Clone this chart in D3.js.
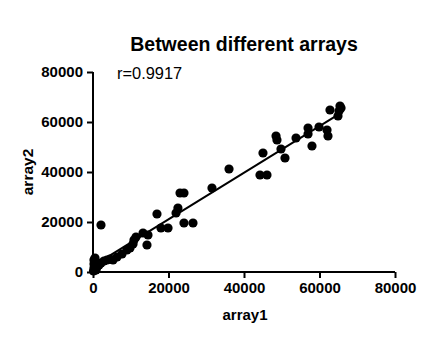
<!DOCTYPE html>
<html>
<head>
<meta charset="utf-8">
<script src="https://cdn.jsdelivr.net/npm/d3@7"></script>
<style>
  body { margin: 0; background: #fff; }
  text { font-family: Arial, "Liberation Sans", sans-serif; fill: #000; }
</style>
</head>
<body>
<div id="chart"></div>
<script>
let width = 448,
  height = 351;

// values
let array1 = [130, 260, 260, 260, 530, 800, 1060, 1590, 2120, 2910, 3710, 4500, 5300,
  6360, 7680, 9000, 9800, 10600, 10860, 11390, 13250, 14570, 14300, 2120,
  16950, 18000, 19870, 22000, 22500, 23050, 24100, 24100, 26490, 31520, 36030,
  44240, 46090, 45030, 48480, 48740, 49800, 50860, 53780, 56960, 56960, 58010,
  59870, 61990, 62250, 62780, 64900, 65170, 65430, 65700];
let array2 = [400, 1600, 3200, 4800, 5600, 800, 2000, 2800, 3600, 4400, 4800, 5200, 4800,
  6000, 7200, 8800, 9600, 11200, 12800, 14000, 15600, 14800, 10800, 18800,
  23200, 17600, 17600, 23600, 25600, 31600, 31600, 19600, 19600, 33600, 41200,
  38800, 38800, 47600, 54400, 52800, 49200, 45600, 53600, 57600, 55200, 50400,
  58000, 56800, 54400, 64800, 62400, 64400, 66400, 65600];
let tickValues = [0, 20000, 40000, 60000, 80000];
let title = "Between different arrays";
let rLabel = "r=0.9917";

let data = array1.map((d, i) => ({x: d, y: array2[i]}));

let svg = d3.select("#chart")
  .append("svg")
  .attr("width", width)
  .attr("height", height);

let x = d3.scaleLinear()
  .domain([0, 80000])
  .range([93, 395]);

let y = d3.scaleLinear()
  .domain([0, 80000])
  .range([272, 72]);

// least squares fit
let mx = d3.mean(data, d => d.x),
  my = d3.mean(data, d => d.y);
let slope = d3.sum(data, d => (d.x - mx) * (d.y - my)) / d3.sum(data, d => (d.x - mx) ** 2);
let icpt = my - slope * mx;
let xr = d3.extent(data, d => d.x);

svg.append("g")
  .selectAll("circle")
  .data(data)
  .join("circle")
  .attr("cx", d => x(d.x))
  .attr("cy", d => y(d.y))
  .attr("r", 4.6)
  .attr("fill", "#000");

svg.append("line")
  .attr("x1", x(xr[0]))
  .attr("y1", y(icpt + slope * xr[0]))
  .attr("x2", x(xr[1]))
  .attr("y2", y(icpt + slope * xr[1]))
  .attr("stroke", "#000")
  .attr("stroke-width", 2);

let xAxis = svg.append("g")
  .attr("transform", "translate(0,272)")
  .call(d3.axisBottom(x).tickValues(tickValues).tickFormat(d3.format("d")).tickSize(6).tickPadding(4));

let yAxis = svg.append("g")
  .attr("transform", "translate(93,0)")
  .call(d3.axisLeft(y).tickValues(tickValues).tickFormat(d3.format("d")).tickSize(6).tickPadding(4));

for (let g of [xAxis, yAxis]) {
  g.select(".domain").attr("stroke-width", 2).attr("d", g === xAxis ? "M93,0H395" : "M0,272V72");
  g.selectAll(".tick line").attr("stroke-width", 2);
  g.selectAll(".tick text")
    .attr("font-size", 15)
    .attr("font-weight", "bold")
    .attr("fill", "#000")
    .style("font-family", "Arial, 'Liberation Sans', sans-serif");
}

svg.append("text")
  .attr("x", 244)
  .attr("y", 51)
  .attr("text-anchor", "middle")
  .attr("font-size", 19.5)
  .attr("font-weight", "bold")
  .text(title);

svg.append("text")
  .attr("x", 117)
  .attr("y", 79)
  .attr("font-size", 16.4)
  .text(rLabel);

svg.append("text")
  .attr("x", 245)
  .attr("y", 320)
  .attr("text-anchor", "middle")
  .attr("font-size", 15)
  .attr("font-weight", "bold")
  .text("array1");

svg.append("text")
  .attr("transform", "translate(33,172) rotate(-90)")
  .attr("text-anchor", "middle")
  .attr("font-size", 15.5)
  .attr("font-weight", "bold")
  .text("array2");
</script>
</body>
</html>
